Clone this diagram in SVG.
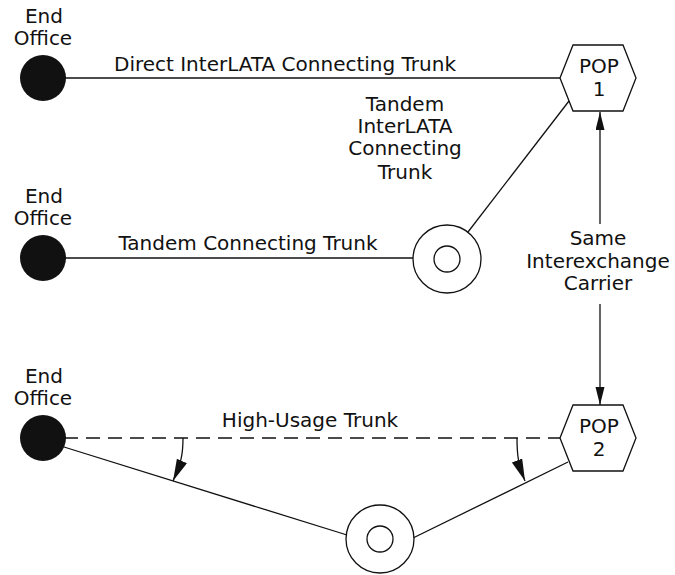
<svg xmlns="http://www.w3.org/2000/svg" width="675" height="575" viewBox="0 0 675 575">
<style>
text{font-family:"DejaVu Sans","Liberation Sans",sans-serif;font-size:20px;fill:#111;text-anchor:middle}
.ln{stroke:#111;stroke-width:1.3;fill:none}
.dash{stroke-dasharray:14 8}
.eo{fill:#111}
.hex{fill:#fff;stroke:#111;stroke-width:1.3}
.ring{fill:#fff;stroke:#111;stroke-width:1.3}
</style>
<defs>
<marker id="ah" markerUnits="userSpaceOnUse" markerWidth="20" markerHeight="10" refX="18" refY="4.5" orient="auto">
<path d="M0,0 L18,4.5 L0,9 z" fill="#111"/>
</marker>
<marker id="ah2" markerUnits="userSpaceOnUse" markerWidth="24" markerHeight="12" refX="22" refY="5.5" orient="auto">
<path d="M0,0 L22,5.5 L0,11 z" fill="#111"/>
</marker>
</defs>
<rect width="675" height="575" fill="#fff"/>
<g id="connectors">
<line class="ln" x1="64" y1="78" x2="560" y2="78"/>
<line class="ln" x1="64" y1="258" x2="413" y2="258"/>
<line class="ln" x1="468" y1="232" x2="569" y2="101"/>
<line class="ln dash" x1="64" y1="438" x2="560" y2="438"/>
<line class="ln" x1="64" y1="447" x2="347" y2="535"/>
<line class="ln" x1="413" y1="538" x2="568" y2="462"/>
<path class="ln" d="M600,224 L600,112" marker-end="url(#ah)"/>
<path class="ln" d="M600,304 L600,405" marker-end="url(#ah)"/>
<path class="ln" d="M183,438 C183,455 181,463 173,481" marker-end="url(#ah2)"/>
<path class="ln" d="M517,438 C517,455 518,463 525,481" marker-end="url(#ah2)"/>
<text x="285" y="71">Direct InterLATA Connecting Trunk</text>
<text x="248" y="250">Tandem Connecting Trunk</text>
<text x="310" y="427">High-Usage Trunk</text>
<text x="405" y="111">Tandem</text>
<text x="405" y="133">InterLATA</text>
<text x="405" y="155">Connecting</text>
<text x="405" y="179">Trunk</text>
<text x="598" y="245">Same</text>
<text x="598" y="268">Interexchange</text>
<text x="598" y="290">Carrier</text>
</g>
<g id="eo1">
<circle class="eo" cx="43" cy="78" r="23"/>
<text x="44" y="23">End</text>
<text x="43" y="45">Office</text>
</g>
<g id="eo2">
<circle class="eo" cx="43" cy="258" r="23"/>
<text x="44" y="203">End</text>
<text x="43" y="225">Office</text>
</g>
<g id="eo3">
<circle class="eo" cx="43" cy="438" r="23"/>
<text x="44" y="383">End</text>
<text x="43" y="405">Office</text>
</g>
<g id="pop1">
<polygon class="hex" points="560,78 573,45 623,45 636,78 623,111 573,111"/>
<text x="599" y="73">POP</text>
<text x="599" y="96">1</text>
</g>
<g id="pop2">
<polygon class="hex" points="560,438 573,405 623,405 636,438 623,471 573,471"/>
<text x="599" y="433">POP</text>
<text x="599" y="456">2</text>
</g>
<g id="tandem1">
<circle class="ring" cx="447" cy="259" r="34"/>
<circle class="ring" cx="447" cy="259" r="13"/>
</g>
<g id="tandem2">
<circle class="ring" cx="380" cy="539" r="34"/>
<circle class="ring" cx="380" cy="539" r="13"/>
</g>
</svg>
